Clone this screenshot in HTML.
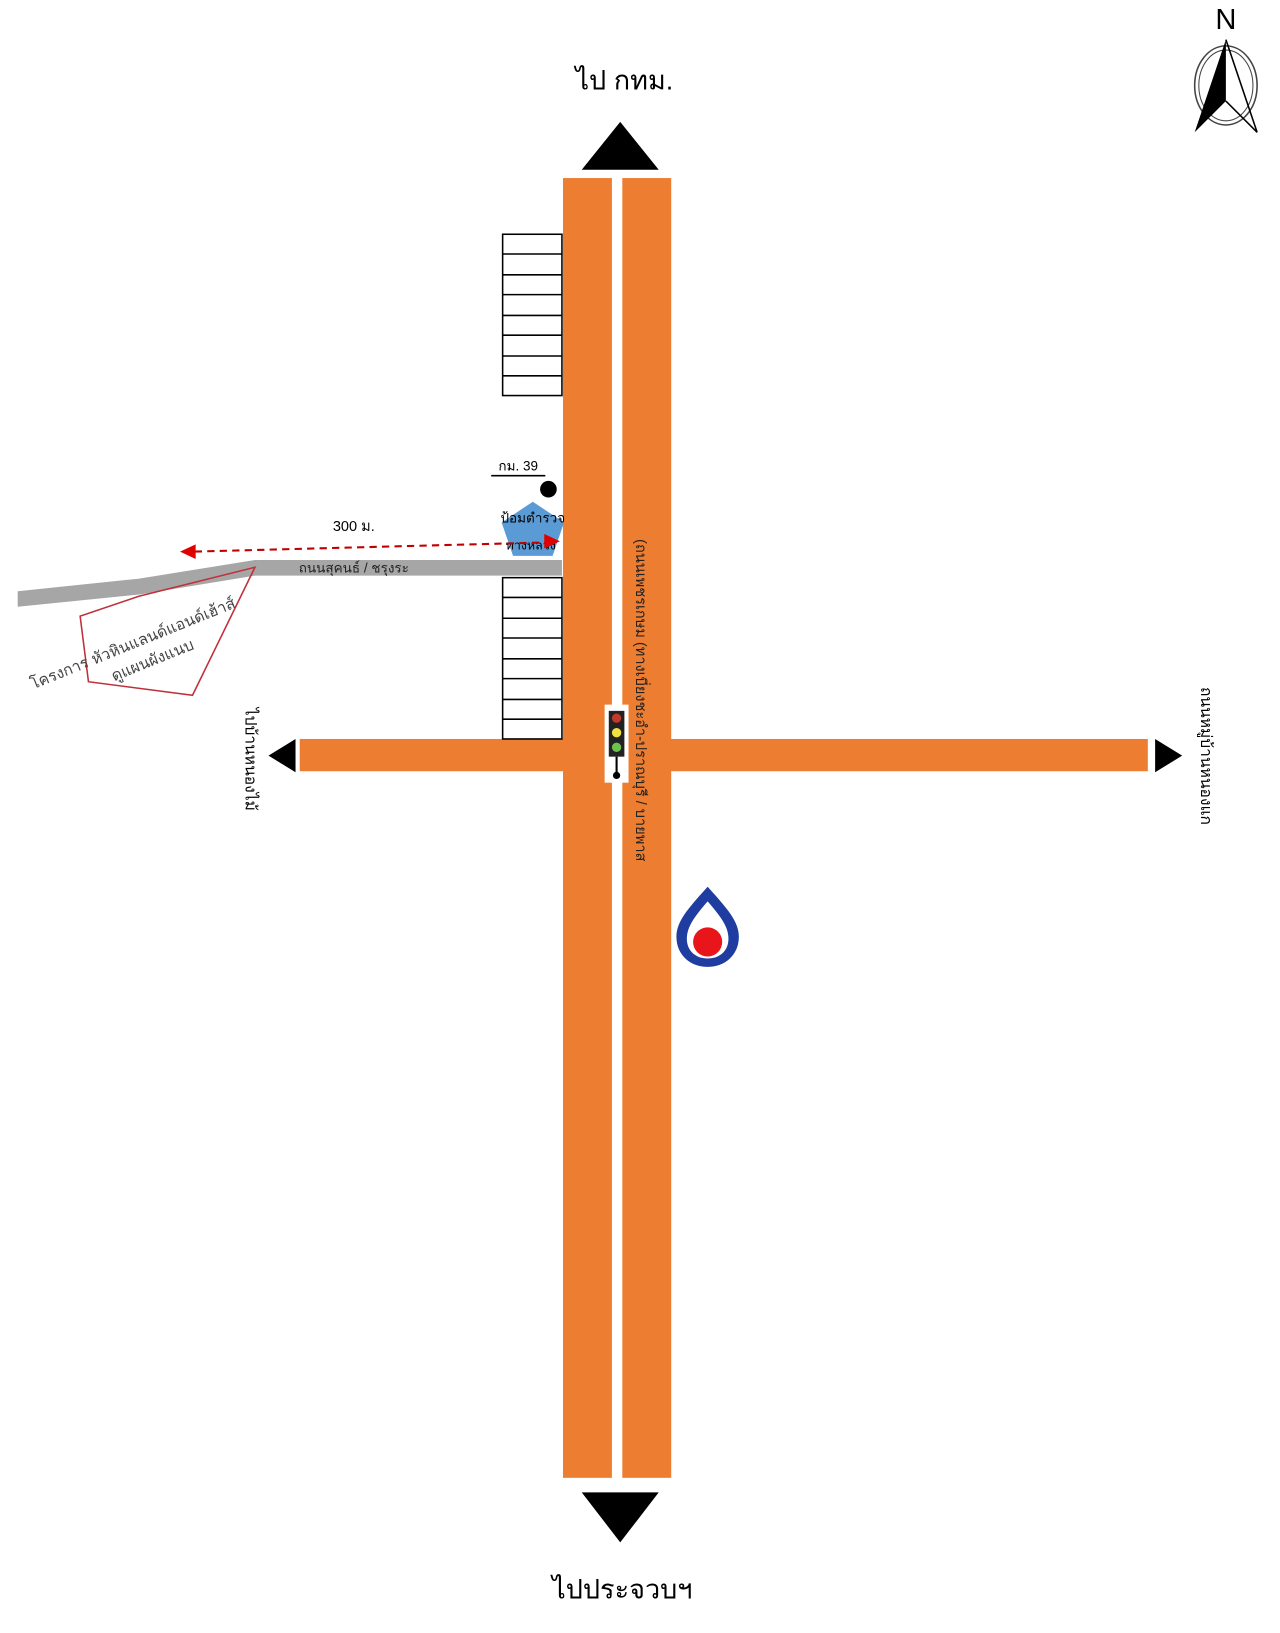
<!DOCTYPE html>
<html><head><meta charset="utf-8"><style>
html,body{margin:0;padding:0;background:#fff;}
svg{display:block;}
text{font-family:"Liberation Sans","Noto Sans CJK SC",sans-serif;}
</style></head><body>
<svg width="1280" height="1633" viewBox="0 0 1230 1569" xmlns="http://www.w3.org/2000/svg">
<!-- gray side road -->
<polygon points="540,538 245,538 133,556 17,568 17,583 135,571 245,553 540,553" fill="#a6a6a6"/>
<!-- red land plot -->
<polygon points="133,573 245,545 185,668 85,655 77,592" fill="none" stroke="#c0303a" stroke-width="1.5"/>
<g transform="rotate(-22 140 610)" fill="#444" font-size="15"><text x="20" y="618">โครงการ หัวหินแลนด์แอนด์เฮ้าส์</text><text x="95" y="640">ดูแผนผังแนบ</text></g>
<!-- horizontal road -->
<rect x="288" y="710" width="815" height="31" fill="#ed7d31"/>
<polygon points="258,726 284,710 284,742" fill="#000"/>
<polygon points="1136,726 1110,710 1110,742" fill="#000"/>
<!-- vertical roads -->
<rect x="541" y="171" width="47" height="1249" fill="#ed7d31"/>
<rect x="598" y="171" width="47" height="1249" fill="#ed7d31"/>
<polygon points="596,117 559,163 633,163" fill="#000"/>
<polygon points="596,1482 559,1434 633,1434" fill="#000"/>
<text x="600" y="86" font-size="26" text-anchor="middle">ไป กทม.</text>
<text x="598" y="1536" font-size="26" text-anchor="middle">ไปประจวบฯ</text>
<!-- buildings -->
<g fill="#fff" stroke="#000" stroke-width="1.5">
<rect x="483" y="225" width="57" height="155"/>
<rect x="483" y="555" width="57" height="155"/>
</g>
<g stroke="#000" stroke-width="1.5">
<line x1="483" y1="244" x2="540" y2="244"/><line x1="483" y1="264" x2="540" y2="264"/><line x1="483" y1="283" x2="540" y2="283"/><line x1="483" y1="303" x2="540" y2="303"/><line x1="483" y1="322" x2="540" y2="322"/><line x1="483" y1="342" x2="540" y2="342"/><line x1="483" y1="361" x2="540" y2="361"/>
<line x1="483" y1="574" x2="540" y2="574"/><line x1="483" y1="594" x2="540" y2="594"/><line x1="483" y1="613" x2="540" y2="613"/><line x1="483" y1="633" x2="540" y2="633"/><line x1="483" y1="652" x2="540" y2="652"/><line x1="483" y1="672" x2="540" y2="672"/><line x1="483" y1="691" x2="540" y2="691"/>
</g>
<text x="340" y="550" font-size="13" fill="#222" text-anchor="middle">ถนนสุคนธ์ / ชรุงระ</text>
<!-- pentagon -->
<polygon points="512,482 542,502 531,534 493,534 482,502" fill="#5b9bd5"/>
<circle cx="527" cy="470" r="8" fill="#000"/>
<text x="498" y="452" font-size="13" text-anchor="middle">กม. 39</text>
<line x1="472" y1="457" x2="524" y2="457" stroke="#000" stroke-width="1.5"/>
<text x="512" y="502" font-size="13" text-anchor="middle">ป้อมตำรวจ</text>
<text x="510" y="528" font-size="12" text-anchor="middle">ทางหลวง</text>
<!-- dashed arrow -->
<line x1="530" y1="521" x2="185" y2="530" stroke="#c00000" stroke-width="2" stroke-dasharray="7,5"/>
<polygon points="173,530 188,523 188,537" fill="#e00000"/>
<polygon points="538,520 523,513 523,527" fill="#e00000"/>
<text x="340" y="510" font-size="14" text-anchor="middle">300 ม.</text>
<!-- traffic light -->
<rect x="581" y="677" width="23" height="75" fill="#fff"/>
<rect x="585" y="683" width="15" height="44" fill="#222"/>
<circle cx="592.5" cy="690" r="4.5" fill="#c0392b"/>
<circle cx="592.5" cy="704" r="4.5" fill="#f0e040"/>
<circle cx="592.5" cy="718" r="4.5" fill="#6cc24a"/>
<line x1="592.5" y1="727" x2="592.5" y2="742" stroke="#000" stroke-width="2"/>
<circle cx="592.5" cy="745" r="3.5" fill="#000"/>
<!-- road name vertical -->
<text transform="translate(611,518) rotate(90)" font-size="14" fill="#222">(ถนนเพชรเกษม (ทางเบี่ยงชะอำ-ปราณบุรี / บายพาส</text>
<text transform="translate(236,680) rotate(90)" font-size="15">ไปบ้านหนองไม้</text>
<text transform="translate(1154,660) rotate(90)" font-size="15">ถนนหมู่บ้านหนองแก</text>
<!-- PTT logo -->
<path d="M680,852 C662,872 650,885 650,900 C650,918 664,929 680,929 C696,929 710,918 710,900 C710,885 698,872 680,852 Z" fill="#1f3da0"/>
<path d="M680,866 C668,880 660,890 660,902 C660,914 669,921 680,921 C691,921 700,914 700,902 C700,890 692,880 680,866 Z" fill="#fff"/>
<circle cx="680" cy="905" r="14" fill="#e8151b"/>
<!-- compass -->
<text x="1178" y="28" font-size="28" font-family="Liberation Serif" text-anchor="middle">N</text>
<ellipse cx="1178" cy="82" rx="30" ry="38" fill="none" stroke="#444" stroke-width="1.5"/>
<ellipse cx="1178" cy="82" rx="26" ry="34" fill="none" stroke="#444" stroke-width="1"/>
<polygon points="1178,38 1148,127 1178,97" fill="#000"/>
<polyline points="1178,38 1208,127 1178,97" fill="none" stroke="#000" stroke-width="1.5"/>
</svg>
</body></html>
